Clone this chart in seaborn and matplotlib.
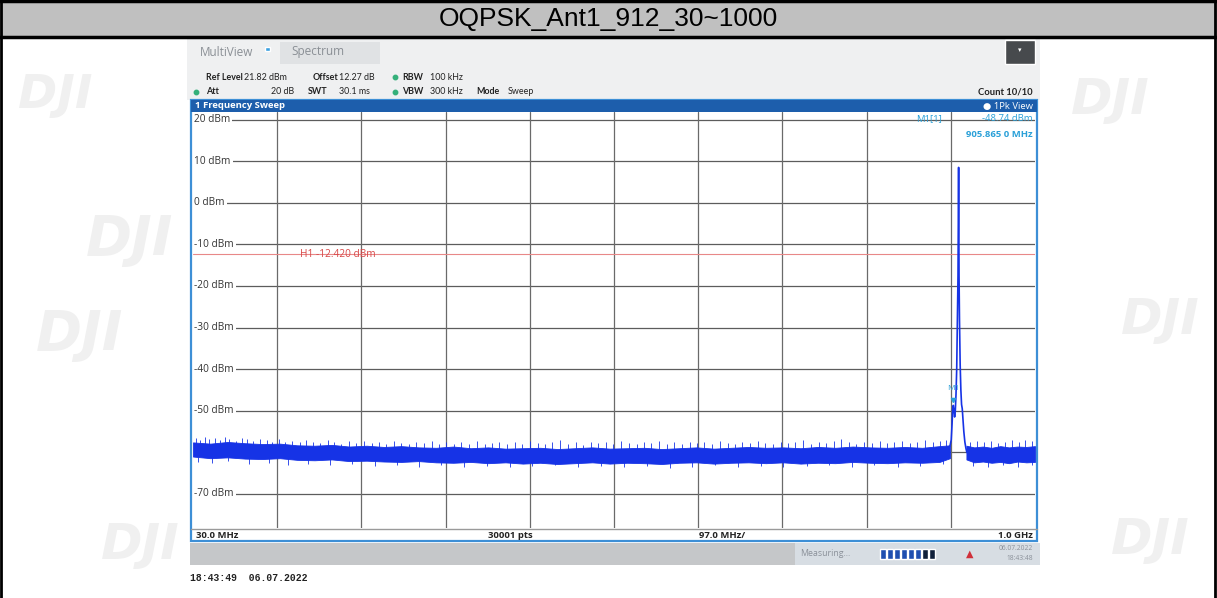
import matplotlib
matplotlib.use("Agg")
import matplotlib.pyplot as plt
from matplotlib.patches import Rectangle
import seaborn as sns
import pandas as pd

# --- data ---
title = "OQPSK_Ant1_912_30~1000"
level_ticks = [20, 10, 0, -10, -20, -30, -40, -50, -60, -70]
freq_grid = [127, 224, 321, 418, 515, 612, 709, 806, 903]
h1_level = -12.42
m1_freq, m1_level = 905.865, -48.74

# noise floor envelope left of the carrier
band_freq_l = [30, 50, 70, 90, 110, 130, 150, 170, 190, 210, 230, 250, 270, 290, 310,
               330, 350, 370, 390, 410, 430, 450, 470, 490, 510, 530, 550, 570, 590, 610,
               630, 650, 670, 690, 710, 730, 750, 770, 790, 810, 830, 850, 870, 890, 902]
band_hi_l = [-57.6, -57.9, -57.5, -57.8, -58.0, -57.9, -58.3, -58.4, -58.2, -58.6, -58.4, -58.7, -58.5, -58.8, -58.9,
             -58.6, -59.0, -58.8, -59.1, -59.0, -58.9, -59.2, -59.0, -58.8, -59.1, -59.0, -58.9, -59.2, -59.0, -58.8,
             -59.1, -58.9, -58.7, -58.9, -58.8, -59.0, -58.7, -58.9, -58.6, -58.8, -58.9, -58.7, -58.9, -58.5, -58.3]
band_lo_l = [-61.0, -61.4, -61.2, -61.5, -61.6, -61.4, -61.8, -61.9, -61.7, -62.1, -62.0, -62.2, -62.3, -62.1, -62.4,
             -62.5, -62.3, -62.6, -62.4, -62.7, -62.5, -62.8, -62.6, -62.4, -62.7, -62.5, -62.6, -62.8, -62.5, -62.4,
             -62.7, -62.5, -62.4, -62.6, -62.4, -62.7, -62.5, -62.6, -62.3, -62.5, -62.6, -62.4, -62.5, -62.3, -61.4]

# noise floor envelope right of the carrier
band_freq_r = [921, 930, 940, 950, 960, 970, 980, 990, 1000]
band_hi_r = [-58.4, -58.8, -58.6, -58.9, -58.5, -58.8, -58.6, -58.7, -58.5]
band_lo_r = [-61.7, -62.4, -62.2, -62.5, -62.3, -62.6, -62.2, -62.4, -62.3]

# noise spikes
up_spike_freq = [33, 38, 44, 49, 55, 61, 67, 72, 79, 86,
                 92, 99, 107, 115, 121, 129, 136, 144, 153, 160,
                 168, 176, 185, 193, 201, 210, 218, 227, 236, 244,
                 252, 261, 270, 279, 287, 296, 305, 313, 322, 331,
                 339, 348, 357, 366, 374, 383, 392, 401, 409, 418,
                 427, 436, 444, 453, 462, 471, 479, 488, 497, 506,
                 514, 523, 532, 541, 549, 558, 567, 576, 584, 593,
                 602, 611, 619, 628, 637, 646, 654, 663, 672, 681,
                 689, 698, 707, 716, 724, 733, 742, 751, 759, 768,
                 777, 786, 794, 803, 812, 821, 829, 838, 847, 856,
                 864, 873, 882, 891, 898, 925, 933, 941, 949, 957,
                 965, 973, 981, 989, 996]
up_spike_top = [-56.6, -57.0, -56.3, -56.9, -56.5, -57.1, -56.4, -56.8, -57.2, -56.6,
                -56.9, -57.3, -56.7, -57.1, -57.4, -56.9, -57.5, -57.2, -57.6, -57.0,
                -57.4, -57.8, -57.1, -57.6, -57.9, -57.3, -57.7, -57.2, -57.8, -57.5,
                -57.9, -57.3, -57.7, -58.0, -57.4, -57.8, -57.2, -57.9, -57.5, -58.1,
                -57.6, -57.9, -57.3, -58.0, -57.7, -57.4, -58.1, -57.6, -57.9, -57.2,
                -57.8, -58.0, -57.5, -57.1, -57.9, -57.6, -58.2, -57.4, -57.8, -57.5,
                -57.9, -57.3, -57.7, -58.0, -57.5, -57.8, -57.2, -57.9, -57.6, -58.1,
                -57.4, -57.8, -57.5, -57.9, -57.3, -57.7, -58.0, -57.4, -57.8, -57.2,
                -57.7, -57.9, -57.4, -57.8, -57.5, -57.1, -57.9, -57.6, -57.8, -57.3,
                -56.8, -57.6, -57.9, -57.4, -57.7, -57.3, -57.8, -57.5, -57.2, -57.7,
                -57.4, -57.0, -57.6, -57.3, -57.1, -57.5, -57.2, -57.6, -57.3, -57.7,
                -57.4, -57.1, -57.5, -57.0, -57.3]
down_spike_freq = [36, 52, 70, 95, 118, 140, 162, 188, 213, 240,
                   265, 290, 316, 342, 369, 395, 421, 447, 474, 500,
                   526, 553, 579, 605, 631, 658, 684, 710, 737, 763,
                   789, 815, 842, 868, 894, 928, 946, 963, 980, 997]
down_spike_bot = [-62.3, -62.6, -62.1, -62.8, -62.5, -63.0, -62.7, -63.1, -62.9, -63.3,
                  -63.0, -63.4, -63.1, -63.5, -63.2, -63.6, -63.3, -63.0, -63.5, -63.2,
                  -63.6, -63.3, -63.7, -63.4, -63.1, -63.5, -63.2, -63.6, -63.3, -63.0,
                  -63.4, -63.1, -63.5, -63.2, -62.9, -63.2, -63.5, -63.1, -63.4, -63.0]

# carrier
peak_freq = [902, 903.5, 904.5, 905.2, 905.9, 906.6, 907.4, 908.2, 909.0, 909.8, 910.6, 911.3,
             912.0, 912.5, 913.0, 913.8, 914.6, 915.4, 916.2, 917.0, 918.0, 919.2, 920.4, 921.5]
peak_level = [-58.5, -57.0, -53.0, -49.5, -48.7, -49.8, -51.5, -50.0, -46.0, -40.0, -28.0, -17.5,
              8.5, -17.5, -28.0, -39.0, -45.0, -48.5, -49.5, -52.0, -55.0, -57.5, -59.0, -60.0]

sns.set_style("white")
plt.rcParams['font.family'] = ['Open Sans', 'DejaVu Sans']

W, H = 1217, 598
fig = plt.figure(figsize=(W / 100, H / 100), dpi=100)
fig.patch.set_facecolor("white")

# pixel-coordinate canvas for the page furniture
bg = fig.add_axes([0, 0, 1, 1])
bg.set_xlim(0, W)
bg.set_ylim(H, 0)
bg.axis("off")

# faint watermarks
for (wx, wy, fs) in [(55, 95, 34), (130, 240, 40), (80, 335, 40), (1110, 100, 36),
                     (1160, 320, 36), (1150, 540, 36), (140, 545, 36)]:
    bg.text(wx, wy, "DJI", fontsize=fs, color="#f0f0f0", fontstyle="italic",
            fontweight="bold", ha="center", va="center", family="DejaVu Sans", zorder=0)

# title bar
bg.add_patch(Rectangle((0, 0), W, 37, facecolor="#c0c0c0", edgecolor="none", zorder=1))
bg.plot([0, W], [1, 1], color="black", lw=2.5, zorder=2)
bg.plot([0, W], [36.5, 36.5], color="black", lw=2.5, zorder=2)
bg.plot([1, 1], [0, H], color="black", lw=2, zorder=2)
bg.plot([W - 2, W - 2], [0, H], color="black", lw=2, zorder=2)
bg.text(W / 2, 19, title, fontsize=19, ha="center", va="center",
        family="Liberation Sans", color="black", zorder=3)

# analyzer header
bg.add_patch(Rectangle((187, 38), 853, 62, facecolor="#eff0f1", edgecolor="none", zorder=1))
bg.add_patch(Rectangle((280, 42), 100, 22, facecolor="#e0e2e4", edgecolor="none", zorder=2))
bg.text(200, 52, "MultiView", fontsize=8.5, color="#8a8f95", va="center", zorder=3)
bg.add_patch(Rectangle((265, 47), 5, 4, facecolor="#3aa0e0", zorder=3))
bg.text(291, 52, "Spectrum", fontsize=8.5, color="#8a8f95", va="center", zorder=3)
bg.add_patch(Rectangle((1005, 40), 30, 24, facecolor="#474a4d", zorder=2))
bg.text(1020, 51, "▾", fontsize=5, color="white", ha="center", va="center", zorder=3)

hdr = dict(fontsize=6.4, va="center", color="#222222", family="Lato", zorder=3)
bg.text(206, 77, "Ref Level", fontweight="bold", **hdr)
bg.text(244, 77, "21.82 dBm", **hdr)
bg.text(313, 77, "Offset", fontweight="bold", **hdr)
bg.text(339, 77, "12.27 dB", **hdr)
bg.text(402, 77, "RBW", fontweight="bold", **hdr)
bg.text(430, 77, "100 kHz", **hdr)
bg.text(206, 92, "Att", fontweight="bold", **hdr)
bg.text(271, 92, "20 dB", **hdr)
bg.text(308, 92, "SWT", fontweight="bold", **hdr)
bg.text(339, 92, "30.1 ms", **hdr)
bg.text(402, 92, "VBW", fontweight="bold", **hdr)
bg.text(430, 92, "300 kHz", **hdr)
bg.text(476, 92, "Mode", fontweight="bold", **hdr)
bg.text(508, 92, "Sweep", **hdr)
bg.text(1033, 92, "Count 10/10", fontweight="bold", ha="right", fontsize=6.8,
        va="center", color="#222222", family="Lato", zorder=3)
for (dx, dy) in [(395, 77), (196, 92), (395, 92)]:
    bg.plot([dx], [dy], marker="o", ms=3.2, color="#34b07a", zorder=3)

# blue sweep title and frame
bg.add_patch(Rectangle((191, 100), 846, 12, facecolor="#1d5eac", edgecolor="none", zorder=2))
bg.text(195, 106, "1 Frequency Sweep", fontsize=6.8, fontweight="bold", color="white",
        va="center", zorder=3)
bg.text(1033, 106, "● 1Pk View", fontsize=6.8, color="white", ha="right", va="center", zorder=3)
bg.add_patch(Rectangle((191, 100), 846, 441, facecolor="white", edgecolor="#3d8fd6",
                       lw=1.6, zorder=1.5))
bg.plot([191, 1037], [528.5, 528.5], color="#9a9a9a", lw=1, zorder=3)

lbl = dict(fontsize=6.8, fontweight="bold", va="center", color="#222222", zorder=3)
bg.text(196, 535, "30.0 MHz", **lbl)
bg.text(510, 535, "30001 pts", ha="center", **lbl)
bg.text(722, 535, "97.0 MHz/", ha="center", **lbl)
bg.text(1033, 535, "1.0 GHz", ha="right", **lbl)

# status bar
bg.add_patch(Rectangle((190, 543), 850, 22, facecolor="#c5c7c9", edgecolor="none", zorder=1))
bg.add_patch(Rectangle((795, 543), 245, 22, facecolor="#d7dde3", edgecolor="none", zorder=1.2))
bg.text(800, 554, "Measuring...", fontsize=6.3, color="#8a9099", va="center", zorder=3)
for i in range(8):
    col = "#1f4fb0" if i < 6 else "#10203a"
    bg.add_patch(Rectangle((880 + i * 7, 549), 5.5, 10, facecolor=col, zorder=3))
bg.text(970, 554, "▲", fontsize=7, color="#d0303a", ha="center", va="center", zorder=3)
bg.text(1033, 549, "06.07.2022", fontsize=4.8, color="#8a9099", ha="right", va="center", zorder=3)
bg.text(1033, 559, "18:43:48", fontsize=4.8, color="#8a9099", ha="right", va="center", zorder=3)

bg.text(190, 578, "18:43:49  06.07.2022", fontsize=7, fontweight="bold",
        family="Liberation Mono", color="#222222", va="center", zorder=3)

# --- spectrum plot ---
x0, x1, y0, y1 = 193, 1035, 112, 528
ax = fig.add_axes([x0 / W, 1 - y1 / H, (x1 - x0) / W, (y1 - y0) / H])
ax.set_zorder(5)
ax.set_facecolor("white")
ax.set_xlim(30, 1000)
ax.set_ylim(-78.18, 21.82)
ax.set_xticks(freq_grid)
ax.set_yticks(level_ticks)
ax.tick_params(length=0, labelbottom=False, labelleft=False)
for s in ax.spines.values():
    s.set_visible(False)
for lv in level_ticks:
    ax.axhline(lv, color="#5c5c5c", lw=0.9, zorder=1)
for fq in freq_grid:
    ax.axvline(fq, color="#6a6a6a", lw=0.9, zorder=1)

for lv in level_ticks:
    ax.text(31.6, lv, f"{lv} dBm", fontsize=7.3, color="#333333", ha="left", va="center",
            zorder=2, bbox=dict(facecolor="white", edgecolor="none", pad=1.3))

ax.axhline(h1_level, color="#e88888", lw=0.8, zorder=2)
ax.text(153, h1_level, f"H1 {h1_level:.3f} dBm", fontsize=7.3, color="#d84848",
        ha="left", va="center", zorder=2.5)

trace_col = "#1633e6"
ax.fill_between(band_freq_l, band_lo_l, band_hi_l, color=trace_col, lw=0.6, zorder=3)
ax.fill_between(band_freq_r, band_lo_r, band_hi_r, color=trace_col, lw=0.6, zorder=3)
ax.vlines(up_spike_freq, -59.5, up_spike_top, color=trace_col, lw=0.6, zorder=3)
ax.vlines(down_spike_freq, -61.0, down_spike_bot, color=trace_col, lw=0.6, zorder=3)

peak = pd.DataFrame({"freq": peak_freq, "level": peak_level})
sns.lineplot(data=peak, x="freq", y="level", ax=ax, color=trace_col, lw=1.2,
             sort=False, estimator=None, zorder=4)
ax.set_xlabel("")
ax.set_ylabel("")

# marker M1
ax.plot([m1_freq], [m1_level + 1.4], marker="v", ms=3, color="#2aa0d8", zorder=5)
ax.text(m1_freq, m1_level + 4.2, "M1", fontsize=6, color="#2aa0d8", ha="center",
        va="center", zorder=5)
ax.text(893, 20.3, "M1[1]", fontsize=6.8, color="#2aa0d8", ha="right", va="center", zorder=5)
ax.text(997, 20.3, f"{m1_level} dBm", fontsize=6.8, color="#2aa0d8", ha="right", va="center", zorder=5)
ax.text(997, 16.4, "905.865 0 MHz", fontsize=6.8, color="#2aa0d8", ha="right", va="center",
        fontweight="bold", zorder=5)

fig.savefig("out.png", dpi=100)
